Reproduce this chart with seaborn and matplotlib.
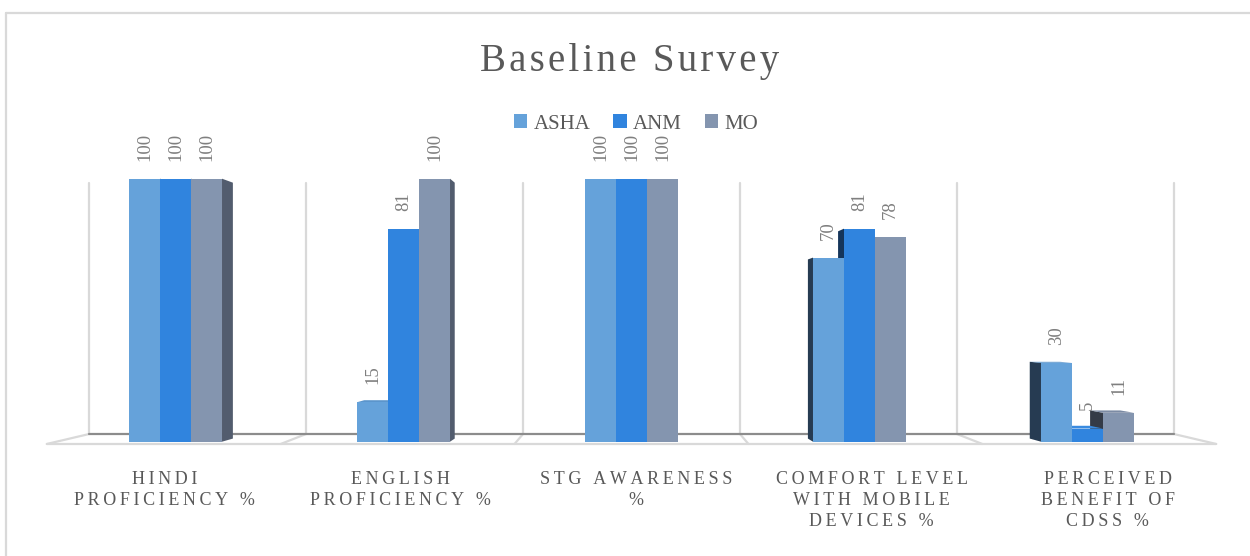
import numpy as np
import pandas as pd
import matplotlib
matplotlib.use("Agg")
import matplotlib.pyplot as plt
from matplotlib.patches import Polygon, Patch
from matplotlib.lines import Line2D
from matplotlib.transforms import IdentityTransform
import seaborn as sns

# ---- data ----
categories = ["Hindi proficiency %", "English proficiency %", "STG awareness %",
              "Comfort level with mobile devices %", "Perceived benefit of CDSS %"]
tick_labels = ["HINDI\nPROFICIENCY %", "ENGLISH\nPROFICIENCY %", "STG AWARENESS\n%",
               "COMFORT LEVEL\nWITH MOBILE\nDEVICES %", "PERCEIVED\nBENEFIT OF\nCDSS %"]
series = ["ASHA", "ANM", "MO"]
asha = [100, 15, 100, 70, 30]
anm = [100, 81, 100, 81, 5]
mo = [100, 100, 100, 78, 11]

front_colors = {"ASHA": "#65A2DA", "ANM": "#3084DE", "MO": "#8495AF"}
right_side = {"ASHA": "#3E5F80", "ANM": "#1F4F86", "MO": "#525C6E"}
left_side = {"ASHA": "#263B52", "ANM": "#15355A", "MO": "#343B47"}
top_face = {"ASHA": "#5B95CC", "ANM": "#3A8BE0", "MO": "#7C8BA4"}

df = pd.DataFrame({
    "category": np.repeat(categories, len(series)),
    "series": series * len(categories),
    "value": np.ravel(np.column_stack([asha, anm, mo])),
})

SERIF = ["Liberation Serif", "DejaVu Serif"]
TXT = "#595959"

sns.set_style("white")
plt.rcParams["font.family"] = SERIF

W, H, DPI = 1250, 556, 100
fig = plt.figure(figsize=(W / DPI, H / DPI), dpi=DPI)

# axes geometry (pixels from the top-left corner of the figure)
px_per_cat = 228.0
first_center = 175.5
base_px, top_px, bottom_px = 441.7, 140.0, 446.0
px_per_unit = 2.63
ax = fig.add_axes([0, (H - bottom_px) / H, 1, (bottom_px - top_px) / H])

sns.barplot(data=df, x="category", y="value", hue="series", order=categories,
            hue_order=series, palette=front_colors, saturation=1, width=0.408,
            gap=0, linewidth=0, legend=False, ax=ax)

ax.set_xlim(-first_center / px_per_cat, (W - first_center) / px_per_cat)
ax.set_ylim((base_px - bottom_px) / px_per_unit, (base_px - top_px) / px_per_unit)
for s in ax.spines.values():
    s.set_visible(False)
ax.set_yticks([])
ax.set_xlabel("")
ax.set_ylabel("")
ax.patch.set_alpha(0)

# ---- back wall and floor drawn in perspective ----
ncat = len(categories)
center_x = 2.0
wall_scale, floor_scale = 0.952, 1.0776
wall_bottom, wall_top, floor_front = 2.9, 98.3, -0.87
seps = [center_x + wall_scale * ((k - 0.5) - center_x) for k in range(ncat + 1)]
grid = "#D9D9D9"
for sx in seps:
    ax.plot([sx, sx], [wall_bottom, wall_top], color=grid, lw=1.6, zorder=1, clip_on=False)
    fx = center_x + floor_scale * (sx - center_x)
    ax.plot([sx, fx], [wall_bottom, floor_front], color=grid, lw=1.6, zorder=1, clip_on=False)
ax.plot([seps[0], seps[-1]], [wall_bottom, wall_bottom], color="#8C8C8C", lw=1.6,
        zorder=1.5, clip_on=False)
fl = center_x + floor_scale * (seps[0] - center_x)
fr = center_x + floor_scale * (seps[-1] - center_x)
ax.plot([fl, fr], [floor_front, floor_front], color=grid, lw=1.6, zorder=1, clip_on=False)

# ---- depth faces of the bars ----
vanish = ax.transData.transform((1.97, 44.0))
depth = 0.973


def back(pt):
    return vanish + depth * (np.asarray(pt) - vanish)


for si, name in enumerate(series):
    for bar in ax.containers[si]:
        x0, x1 = bar.get_x(), bar.get_x() + bar.get_width()
        h = bar.get_height()
        (dx0, dy0), (dx1, dy1) = ax.transData.transform([(x0, 0), (x1, h)])
        cx = 0.5 * (dx0 + dx1)
        z = 10 - abs(cx - vanish[0]) / 1000.0
        bar.set_zorder(z)
        faces = []
        if dx1 < vanish[0]:
            faces.append(([(dx1, dy0), (dx1, dy1), back((dx1, dy1)), back((dx1, dy0))],
                          right_side[name]))
        elif dx0 > vanish[0]:
            faces.append(([(dx0, dy0), (dx0, dy1), back((dx0, dy1)), back((dx0, dy0))],
                          left_side[name]))
        if dy1 < vanish[1]:
            faces.append(([(dx0, dy1), (dx1, dy1), back((dx1, dy1)), back((dx0, dy1))],
                          top_face[name]))
        for poly, col in faces:
            ax.add_patch(Polygon(poly, closed=True, facecolor=col, edgecolor="none",
                                 transform=IdentityTransform(), zorder=z - 1e-5))
        ax.annotate(f"{h:g}", (bar.get_x() + bar.get_width() / 2, h),
                    xytext=(0, 13), textcoords="offset points", rotation=90,
                    ha="center", va="bottom", fontsize=13.5, color="#7F7F7F",
                    family=SERIF, zorder=20)

# ---- category labels on the front edge of the floor ----
def spaced(text):
    return "\n".join("\u2009".join(line) for line in text.split("\n"))


label_pos = [2.02 + 1.034 * (k - 2) for k in range(ncat)]
ax.set_xticks(label_pos)
ax.set_xticklabels([spaced(t) for t in tick_labels], fontsize=13, color=TXT,
                   family=SERIF, linespacing=1.32)
ax.tick_params(axis="x", length=0, pad=18)

# ---- title, legend, frame ----
fig.text(630 / W, 1 - 62 / H, "\u200a".join("Baseline Survey"), ha="center",
         va="center", fontsize=28, color=TXT, family=SERIF)

handles = [Patch(facecolor=front_colors[s], edgecolor="none") for s in series]
fig.legend(handles, series, loc="center", bbox_to_anchor=(636 / W, 1 - 124 / H),
           ncol=3, frameon=False, handlelength=0.65, handleheight=0.65,
           handletextpad=0.3, columnspacing=1.1, labelcolor=TXT,
           prop={"family": SERIF, "size": 15})

fig.add_artist(Line2D([6 / W, 6 / W], [0, 1 - 13 / H], color=grid, lw=1.6,
                      transform=fig.transFigure))
fig.add_artist(Line2D([6 / W, 1], [1 - 13 / H, 1 - 13 / H], color=grid, lw=1.6,
                      transform=fig.transFigure))

fig.savefig("out.png", dpi=DPI, facecolor="white")
